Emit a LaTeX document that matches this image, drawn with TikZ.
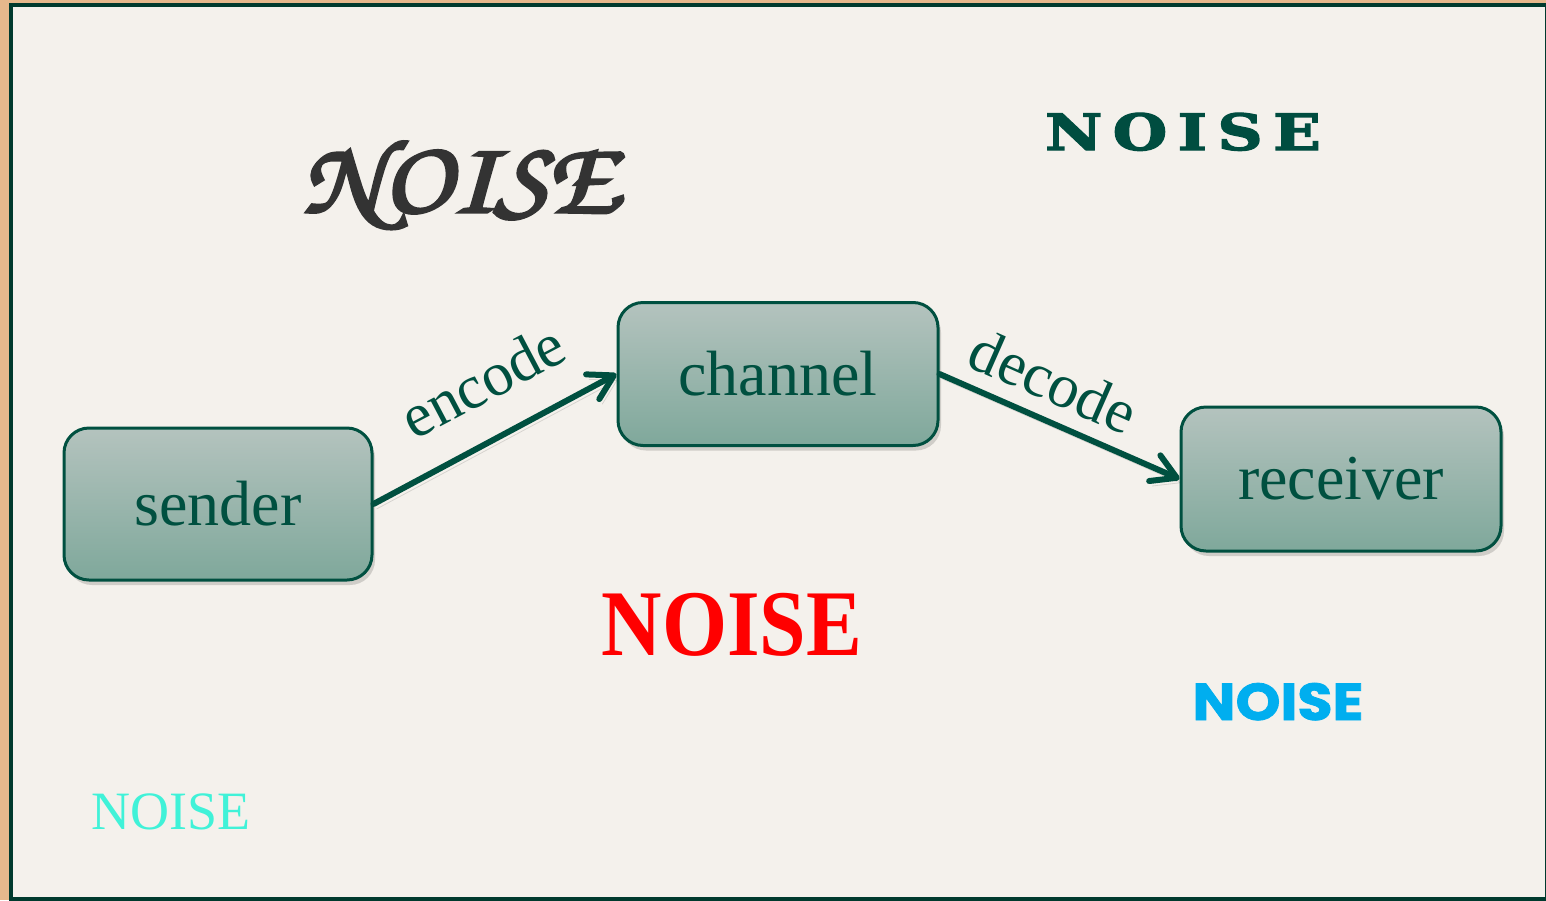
\documentclass[tikz,border=0pt]{standalone}
\usepackage[T1]{fontenc}
\usepackage{fontspec}
\usepackage{graphicx}
\setmainfont{Liberation Serif}
\newfontfamily\popfont{Poppins}[BoldFeatures={FakeBold=1.5}]
\newfontfamily\dvsfont{DejaVu Serif}[BoldFeatures={FakeBold=2.5}]
\usetikzlibrary{arrows.meta,shadows,calc}
\definecolor{tanbg}{RGB}{230,184,140}
\definecolor{paper}{RGB}{244,241,236}
\definecolor{framecol}{RGB}{0,58,46}
\definecolor{dgreen}{RGB}{0,80,64}
\definecolor{boxtop}{RGB}{180,195,190}
\definecolor{boxbot}{RGB}{127,168,155}
\definecolor{noisegreen}{RGB}{0,77,64}
\definecolor{noisered}{RGB}{255,0,0}
\definecolor{noiseblue}{RGB}{0,174,239}
\definecolor{noisecyan}{RGB}{64,242,216}
\definecolor{scriptgray}{RGB}{51,51,51}
\newcommand{\scriptnoise}{\fontencoding{T1}\fontfamily{pzc}\fontseries{mb}\fontshape{it}\selectfont}
\newcommand{\heavytext}[1]{\special{pdf:literal 2 Tr 1.6 w}#1\special{pdf:literal 0 Tr}}
\tikzset{
  stagebox/.style={draw=dgreen, line width=1.5pt, rounded corners=12.5pt,
    top color=boxtop, bottom color=boxbot, text=dgreen,
    font=\fontsize{32}{38}\selectfont,
    drop shadow={shadow xshift=1.5pt, shadow yshift=-2.5pt, opacity=0.15, fill=black}},
  flowarrow/.style={draw=dgreen, line width=3pt, line cap=round,
    -{Straight Barb[length=12pt,width=14pt,line cap=round,line join=round]}},
  flowlabel/.style={text=dgreen, font=\fontsize{31}{36}\selectfont, inner sep=0pt, anchor=base},
  noiselabel/.style={anchor=base, inner sep=0pt}
}
\begin{document}
\begin{tikzpicture}[x=0.5pt,y=-0.5pt]
\useasboundingbox (0,0) rectangle (1546,900);
\fill[tanbg] (0,0) rectangle (1546,900);
\draw[framecol, line width=2.2pt, fill=paper] (11,5) rectangle (1547,899);

\node[stagebox, minimum width=154pt, minimum height=76pt] (sender) at (218,504) {sender};
\node[stagebox, minimum width=160pt, minimum height=71.5pt] (channel) at (778,374) {channel};
\node[stagebox, minimum width=160pt, minimum height=72pt] (receiver) at (1341,479) {receiver};

\draw[flowarrow, preaction={draw=black, opacity=0.12, transform canvas={xshift=1.5pt,yshift=-2.5pt}}] (sender.east) -- (channel.west);
\draw[flowarrow, preaction={draw=black, opacity=0.12, transform canvas={xshift=1.5pt,yshift=-2.5pt}}] (channel.east) -- (receiver.west);

\node[flowlabel, rotate=27.8] (enc) at ($($(sender.east)!0.56!(channel.west)$)!18pt!90:(channel.west)$) {encode};
\node[flowlabel, rotate=-23.8] (dec) at ($($(channel.east)!0.41!(receiver.west)$)!9pt!90:(receiver.west)$) {decode};

\node[noiselabel, text=scriptgray, font=\scriptnoise\fontsize{52}{58}\selectfont] (n1) at (460,212) {\scalebox{1.1}[1]{\heavytext{NOISE}}};
\node[noiselabel, text=noisegreen, font=\dvsfont\bfseries\fontsize{25}{30}\selectfont] (n2) at (1183,150) {\scalebox{1.25}[1]{N\hspace{4.2pt}O\hspace{4.2pt}I\hspace{4.2pt}S\hspace{4.2pt}E}};
\node[noiselabel, text=noisered, font=\bfseries\fontsize{47}{52}\selectfont] (n3) at (732,655) {\scalebox{0.89}[1]{NOISE}};
\node[noiselabel, text=noiseblue, font=\popfont\bfseries\fontsize{26}{30}\selectfont] (n4) at (1278,720) {\scalebox{1.1}[1]{NOISE}};
\node[noiselabel, text=noisecyan, font=\fontsize{27}{30}\selectfont] (n5) at (171,829) {NOISE};
\end{tikzpicture}
\end{document}
